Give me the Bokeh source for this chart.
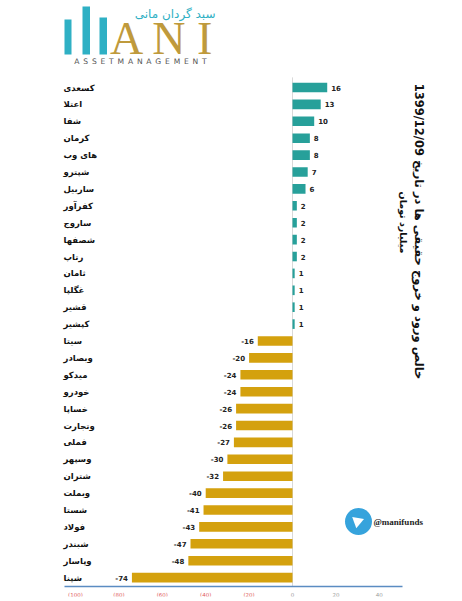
import math
from bokeh.plotting import figure
from bokeh.models import ColumnDataSource, Range1d, FixedTicker
from bokeh.core.properties import value
from bokeh.embed import file_html
from bokeh.resources import INLINE

# ---------------- data ----------------
symbols = ["کسعدی", "اعتلا", "شفا", "کرمان", "های وب", "شپترو", "ساربیل", "کفرآور",
           "ساروج", "شصفها", "رتاپ", "ثامان", "غگلپا", "قشیر", "کپشیر",
           "سیتا", "وبصادر", "میدکو", "خودرو", "خساپا", "وتجارت", "فملی", "وسپهر",
           "شتران", "وبملت", "شستا", "فولاد", "شبندر", "وپاسار", "شپنا"]
net_flow = [16, 13, 10, 8, 8, 7, 6, 2, 2, 2, 2, 1, 1, 1, 1,
            -16, -20, -24, -24, -26, -26, -27, -30, -32, -40, -41, -43, -47, -48, -74]
tick_values = [-100, -80, -60, -40, -20, 0, 20, 40]
title_line1 = "\u202bخالص ورود و خروج حقیقی ها در تاریخ 1399/12/09\u202c"
title_line2 = "میلیارد تومان"
channel = "@manifunds"

# ---------------- geometry (page px) ----------------
FRAME_W, FRAME_H = 460, 596
ZERO_PX = 292.0
PXU = 2.17           # px per unit
FIRST_ROW_PX = 87.0
ROW_PX = 16.9


def sx(px):  # page px -> data x
    return (px - ZERO_PX) / PXU


def sy(py):  # page px -> data y (rows, increasing downward)
    return (py - FIRST_ROW_PX) / ROW_PX


TEAL = "#27a09a"
GOLD = "#d4a10e"
FONT = "DejaVu Sans"

p = figure(frame_width=FRAME_W, frame_height=FRAME_H, output_backend="svg",
           toolbar_location=None,
           x_range=Range1d(sx(0), sx(FRAME_W)), y_range=Range1d(sy(FRAME_H), sy(0)),
           min_border_left=0, min_border_right=0, min_border_top=0, min_border_bottom=4)
p.outline_line_color = None
p.grid.visible = False
p.yaxis.visible = False
xa = p.xaxis[0]
xa.ticker = FixedTicker(ticks=[])
xa.fixed_location = sy(586)
xa.bounds = (sx(64), sx(402))
xa.axis_line_color = "#5b8cc2"
xa.axis_line_width = 1.3
xa.major_tick_line_color = None
xa.minor_tick_line_color = None
xa.major_tick_out = 0
xa.major_tick_in = 0
xa.major_label_standoff = 0

rows = list(range(len(symbols)))
colors = [TEAL if v >= 0 else GOLD for v in net_flow]
src = ColumnDataSource(dict(y=rows, v=net_flow, name=symbols, c=colors))

# zero line
p.segment(x0=[0], x1=[0], y0=[-0.6], y1=[sy(586)], line_color="#d9d9d9", line_width=1)

# bars
p.hbar(y="y", left=0, right="v", height=0.57, fill_color="c", line_color=None, source=src)

# category labels
p.text(x=sx(63), y="y", text="name", source=src, text_font=value(FONT),
       text_font_style="bold", text_font_size="8.5px", text_color="#111111",
       text_align="left", text_baseline="middle")

# value labels
pos_idx = [i for i, v in enumerate(net_flow) if v >= 0]
neg_idx = [i for i, v in enumerate(net_flow) if v < 0]
src_pos = ColumnDataSource(dict(y=[rows[i] for i in pos_idx], v=[net_flow[i] for i in pos_idx],
                                lab=[str(net_flow[i]) for i in pos_idx]))
src_neg = ColumnDataSource(dict(y=[rows[i] for i in neg_idx], v=[net_flow[i] for i in neg_idx],
                                lab=[str(net_flow[i]) for i in neg_idx]))
p.text(x="v", y="y", text="lab", source=src_pos, text_font=value(FONT), text_font_style="bold",
       text_font_size="7px", text_color="#222222", text_align="left", text_baseline="middle",
       x_offset=4)
p.text(x="v", y="y", text="lab", source=src_neg, text_font=value(FONT), text_font_style="bold",
       text_font_size="7px", text_color="#222222", text_align="right", text_baseline="middle",
       x_offset=-4)

# tick labels (red for negatives, grey for positives)
tick_src = ColumnDataSource(dict(
    x=tick_values,
    y=[sy(594)] * len(tick_values),
    t=[f"({abs(t)})" if t < 0 else str(t) for t in tick_values],
    col=["#e05a5a" if t < 0 else "#9a9a9a" for t in tick_values]))
p.text(x="x", y="y", text="t", source=tick_src, text_color="col",
       text_font=value(FONT), text_font_size="5.5px",
       text_align="center", text_baseline="middle")

# title (vertical, right side)
p.text(x=[sx(418)], y=[sy(231)], text=[title_line1], angle=-math.pi / 2,
       text_font=value(FONT), text_font_style="bold", text_font_size="11.5px",
       text_color="#111111", text_align="center", text_baseline="middle")
p.text(x=[sx(403)], y=[sy(222)], text=[title_line2], angle=-math.pi / 2,
       text_font=value(FONT), text_font_style="bold", text_font_size="9.5px",
       text_color="#111111", text_align="center", text_baseline="middle")

# logo
p.quad(left=[sx(64), sx(82), sx(99)], right=[sx(71), sx(89.5), sx(106.5)],
       top=[sy(19), sy(6), sy(17)], bottom=[sy(54)] * 3, fill_color="#2fb0c4", line_color=None)
p.text(x=[sx(162)], y=[sy(38)], text=["A N I"], text_font=value("Liberation Serif"),
       text_font_size="46px", text_color="#bf9a3c", text_align="center",
       text_baseline="middle")
p.text(x=[sx(215)], y=[sy(13)], text=["سبد گردان مانی"], text_font=value(FONT),
       text_font_size="12px", text_color="#2fb0c4", text_align="right",
       text_baseline="middle")
p.text(x=[sx(140)], y=[sy(61)], text=["A\u2002S\u2002S\u2002E\u2002T\u2002M\u2002A\u2002N\u2002A\u2002G\u2002E\u2002M\u2002E\u2002N\u2002T"],
       text_font=value(FONT), text_font_size="7.6px", text_color="#555555",
       text_align="center", text_baseline="middle")

# telegram badge
p.scatter(x=[sx(358)], y=[sy(521)], size=27, marker="circle", fill_color="#36a3dc",
          line_color=None)
p.scatter(x=[sx(357)], y=[sy(521)], size=12, marker="triangle", angle=-math.pi / 2 + 0.35,
          fill_color="white", line_color=None)
p.text(x=[sx(373)], y=[sy(521)], text=[channel], text_font=value("Liberation Serif"),
       text_font_style="bold", text_font_size="9px", text_color="#222222",
       text_align="left", text_baseline="middle")

open("out.html", "w").write(file_html(p, INLINE))
